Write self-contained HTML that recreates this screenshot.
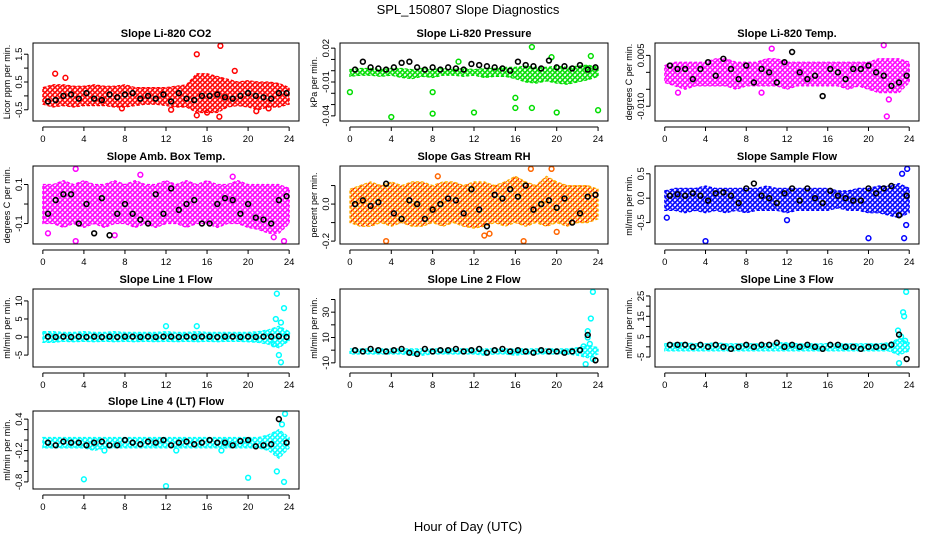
<!DOCTYPE html>
<html><head><meta charset="utf-8">
<style>
body{margin:0;background:#fff;}
svg{display:block;font-family:"Liberation Sans",sans-serif;}
</style></head>
<body>
<svg id="chart" width="936" height="540" viewBox="0 0 936 540">
<text x="468" y="14" text-anchor="middle" font-size="13">SPL_150807  Slope Diagnostics</text>
<text x="468" y="531" text-anchor="middle" font-size="13">Hour of Day (UTC)</text>
</svg>
<script>
const hours = [0,1,2,3,4,5,6,7,8,9,10,11,12,13,14,15,16,17,18,19,20,21,22,23,24];
const xTicks = [0,4,8,12,16,20,24];

const p1Lo = [-0.3,-0.4,-0.35,-0.4,-0.35,-0.35,-0.35,-0.4,-0.4,-0.35,-0.3,-0.3,-0.35,-0.4,-0.4,-0.6,-0.6,-0.6,-0.4,-0.35,-0.4,-0.5,-0.4,-0.4,-0.3];
const p1Hi = [0.3,0.4,0.4,0.35,0.35,0.4,0.35,0.35,0.4,0.3,0.3,0.3,0.3,0.35,0.4,0.8,0.8,0.7,0.6,0.5,0.55,0.5,0.5,0.45,0.3];
const p1Out = [[1.2,0.8],[2.2,0.65],[15,1.5],[17.3,1.8],[15,-0.7],[17.2,-0.75],[12.5,-0.5],[7.7,-0.45],[20.8,-0.55],[18.7,0.9],[16,-0.6],[22,-0.45]];
const p1Black = [-0.2,-0.15,0,0.05,-0.1,0.1,-0.1,-0.15,0.05,-0.05,0.05,0.1,-0.1,0,-0.1,0.05,-0.2,0.1,-0.1,-0.15,0,0,0.05,-0.05,-0.1,0,0.1,0,-0.05,-0.1,0.1,0.1];

const p2Lo = [-0.005,-0.004,-0.004,-0.005,-0.004,-0.006,-0.007,-0.005,-0.006,-0.004,-0.004,-0.005,-0.004,-0.006,-0.005,-0.005,-0.007,-0.01,-0.011,-0.009,-0.011,-0.012,-0.01,-0.008,-0.005];
const p2Hi = [0.001,0.002,0.002,0.001,0.002,0.002,0.001,0.002,0.001,0.002,0.001,0.002,0.001,0.002,0.002,0.003,0.003,0.004,0.003,0.003,0.004,0.003,0.004,0.005,0.003];
const p2Out = [[4,-0.041],[8,-0.038],[12,-0.037],[16,-0.033],[17.6,-0.033],[20,-0.037],[24,-0.035],[0,-0.019],[8,-0.019],[16,-0.024],[17.6,0.021],[23.3,0.013],[10.5,0.008],[19.5,0.012]];
const p2Black = [0.001,0.008,0.003,0.002,0.001,0.003,0.007,0.008,0.003,0.001,0.003,0.001,0.003,0.002,0.001,0.006,0.005,0.004,0.003,0.002,0.0,0.008,0.005,0.004,0.002,0.009,0.003,0.004,0.002,0.005,0.001,0.003];

const p3Lo = [-0.003,-0.004,-0.005,-0.004,-0.004,-0.004,-0.004,-0.005,-0.004,-0.004,-0.004,-0.004,-0.005,-0.004,-0.004,-0.004,-0.004,-0.004,-0.005,-0.004,-0.005,-0.006,-0.006,-0.006,-0.003];
const p3Hi = [0.002,0.003,0.003,0.003,0.003,0.004,0.004,0.003,0.003,0.003,0.004,0.004,0.003,0.003,0.003,0.003,0.003,0.003,0.003,0.003,0.003,0.004,0.004,0.004,0.003];
const p3Out = [[10.5,0.007],[21.5,0.008],[21.8,-0.013],[1.3,-0.006],[22,-0.008],[9.5,-0.006]];
const p3Black = [0.002,0.001,0.001,-0.002,0.001,0.003,-0.001,0.004,0.001,-0.002,0.002,-0.003,0.001,0.0,-0.003,0.003,0.006,0.0,-0.002,-0.001,-0.007,0.001,0.0,-0.002,0.001,0.001,0.002,0.0,-0.001,-0.004,-0.003,-0.001];

const p4Lo = [-0.1,-0.1,-0.12,-0.1,-0.12,-0.1,-0.12,-0.1,-0.1,-0.12,-0.1,-0.12,-0.1,-0.1,-0.12,-0.1,-0.1,-0.12,-0.1,-0.1,-0.12,-0.13,-0.15,-0.15,-0.1];
const p4Hi = [0.1,0.1,0.12,0.1,0.12,0.1,0.1,0.12,0.1,0.12,0.1,0.1,0.12,0.1,0.12,0.1,0.12,0.1,0.1,0.12,0.1,0.1,0.1,0.1,0.08];
const p4Out = [[3.2,0.18],[3.2,-0.19],[23.5,-0.19],[0.5,-0.15],[9.5,0.15],[18.5,0.14],[22.5,-0.17],[7,-0.16]];
const p4Black = [-0.05,0.02,0.05,0.05,-0.1,0.0,-0.15,0.03,-0.16,-0.05,0.0,-0.05,-0.08,-0.1,0.05,-0.05,0.08,-0.03,0.0,0.02,-0.1,-0.1,0.0,0.03,0.02,-0.05,0.0,-0.07,-0.08,-0.1,0.02,0.04];

const p5Lo = [-0.1,-0.12,-0.12,-0.1,-0.12,-0.1,-0.12,-0.12,-0.1,-0.12,-0.1,-0.12,-0.13,-0.12,-0.1,-0.12,-0.1,-0.12,-0.1,-0.12,-0.1,-0.12,-0.1,-0.1,-0.08];
const p5Hi = [0.08,0.1,0.12,0.1,0.12,0.1,0.12,0.12,0.1,0.12,0.12,0.1,0.12,0.12,0.1,0.12,0.15,0.12,0.1,0.15,0.12,0.1,0.1,0.1,0.08];
const p5Out = [[3.5,-0.2],[16.8,-0.2],[17.5,0.19],[13,-0.17],[19.5,0.19],[13.5,-0.16],[8.5,0.15],[20,-0.15]];
const p5Black = [0.0,0.02,-0.01,0.01,0.11,-0.05,-0.08,0.02,0.0,-0.08,-0.03,0.0,0.03,0.02,-0.05,0.08,-0.03,-0.12,0.05,0.03,0.08,0.04,0.1,-0.03,0.0,0.02,-0.02,0.03,-0.1,-0.05,0.04,0.05];

const p6Lo = [-0.25,-0.25,-0.3,-0.25,-0.3,-0.25,-0.3,-0.25,-0.3,-0.25,-0.25,-0.25,-0.3,-0.25,-0.25,-0.25,-0.25,-0.2,-0.25,-0.25,-0.3,-0.3,-0.35,-0.4,-0.3];
const p6Hi = [0.15,0.2,0.2,0.2,0.25,0.2,0.2,0.2,0.2,0.2,0.25,0.2,0.2,0.2,0.2,0.2,0.2,0.15,0.15,0.2,0.2,0.25,0.25,0.3,0.2];
const p6Out = [[4,-0.88],[20,-0.82],[23.5,-0.82],[0.2,-0.4],[23.3,0.5],[23.8,0.6],[12,-0.45],[23.7,-0.55]];
const p6Black = [0.05,0.08,0.05,0.1,0.05,-0.05,0.1,0.12,0.05,-0.1,0.2,0.3,0.05,0.0,-0.1,0.1,0.2,-0.05,0.2,0.0,-0.1,0.15,0.05,0.0,-0.05,-0.05,0.2,0.1,0.2,0.25,-0.35,0.05];

const p7Lo = [-1.5,-1.5,-1.2,-1.3,-1.2,-1.3,-1.2,-1.3,-1.2,-1.3,-1.2,-1.3,-1.2,-1.3,-1.2,-1.3,-1.2,-1.3,-1.2,-1.2,-1.3,-1.5,-2,-3,-1];
const p7Hi = [1.5,1.5,1.3,1.3,1.5,1.3,1.3,1.5,1.3,1.3,1.3,1.3,1.5,1.3,1.3,1.5,1.3,1.3,1.3,1.3,1.3,1.5,2,3,1.5];
const p7Out = [[22.8,12],[23.5,8],[23,-5],[23.2,-7],[22.5,-2],[22.7,5],[12,3],[15,3],[23.2,4],[23.8,1]];
const p7Black = [0.1,0.0,0.1,0.0,0.1,0.0,0.1,0.0,0.1,0.0,0.1,0.1,0.0,0.1,0.0,0.1,0.1,0.0,0.1,0.0,0.1,0.1,0.0,0.1,0.1,0.0,0.1,0.0,0.1,0.1,0.2,0.0];

const p8Lo = [-3,-3,-3,-3,-3,-3,-4,-4,-3,-3,-3,-3,-3,-4,-3,-3,-4,-3,-3,-3,-3,-3,-4,-6,-3];
const p8Hi = [1,1,1,1,1,1,1,1,1,1,1,1,1,1,1,1,1,1,1,1,1,1,2,4,2];
const p8Out = [[23.5,46],[23.3,25],[23,15],[23,10],[22.8,-11],[23.5,-7],[23.2,5],[22.6,3]];
const p8Black = [0,-1,1,0,-1,0,1,-2,-3,1,-1,0,0,1,-1,0,1,-2,0,1,-1,0,-1,-2,0,-1,-1,-2,-1,0,12,-8];

const p9Lo = [-2,-2,-2,-2,-2,-2,-2,-2,-2,-2,-2,-2,-2,-2,-2,-2,-2,-2,-2,-2,-2,-2,-2,-4,-2];
const p9Hi = [1.5,2,2,1.5,1.5,2,1.5,1.5,1.5,1.5,1.5,2,2,1.5,1.5,1.5,1.5,1.5,1.5,1.5,1.5,1.5,2,4,2];
const p9Out = [[23.7,27],[23.4,17],[23.5,15],[22.9,8],[23,-8],[23.2,5],[23.6,3]];
const p9Black = [1,1,1,0,1,0,1,0,-1,0,1,0,1,1,2,0,1,0,1,0,-1,1,1,0,0,-1,0,0,0,1,6,-6];

const p10Lo = [-0.15,-0.15,-0.15,-0.15,-0.15,-0.2,-0.15,-0.15,-0.15,-0.15,-0.15,-0.15,-0.15,-0.15,-0.15,-0.15,-0.15,-0.15,-0.15,-0.15,-0.15,-0.15,-0.2,-0.35,-0.15];
const p10Hi = [0.05,0.05,0.05,0.05,0.05,0.05,0.05,0.05,0.05,0.05,0.05,0.05,0.05,0.05,0.05,0.05,0.05,0.05,0.05,0.05,0.05,0.05,0.1,0.2,0.05];
const p10Out = [[4,-0.75],[12,-0.88],[20,-0.72],[23.5,-0.8],[22.8,-0.6],[23.6,0.5],[23.3,0.3],[6,-0.2],[13,-0.2],[17.4,-0.2]];
const p10Black = [-0.05,-0.1,-0.03,-0.05,-0.05,-0.1,-0.05,-0.03,-0.1,-0.1,0.0,-0.05,-0.08,-0.03,-0.05,0.0,-0.1,-0.05,-0.03,-0.08,-0.05,0.0,-0.05,-0.05,-0.1,-0.02,0.0,-0.12,-0.1,-0.08,0.4,-0.05];

const panels = [
 {name:'slope-li820-co2',title:'Slope Li-820 CO2',ylab:'Licor ppm per min.',col:0,row:0,ymin:-0.8,ymax:1.8,ticks:[-0.5,0,0.5,1,1.5],labels:[-0.5,0.5,1.5],fmt:v=>v.toFixed(1),color:'#ff0000',lo:p1Lo,hi:p1Hi,out:p1Out,black:p1Black},
 {name:'slope-li820-pressure',title:'Slope Li-820 Pressure',ylab:'kPa per min.',col:1,row:0,ymin:-0.042,ymax:0.022,ticks:[-0.04,-0.03,-0.02,-0.01,0,0.01,0.02],labels:[-0.04,-0.01,0.02],fmt:v=>v.toFixed(2),color:'#00dd00',lo:p2Lo,hi:p2Hi,out:p2Out,black:p2Black},
 {name:'slope-li820-temp',title:'Slope Li-820 Temp.',ylab:'degrees C per min.',col:2,row:0,ymin:-0.0135,ymax:0.0078,ticks:[-0.01,-0.005,0,0.005],labels:[-0.01,0.005],fmt:v=>v.toFixed(3),color:'#ff00ff',lo:p3Lo,hi:p3Hi,out:p3Out,black:p3Black},
 {name:'slope-amb-box-temp',title:'Slope Amb. Box Temp.',ylab:'degrees C per min.',col:0,row:1,ymin:-0.19,ymax:0.18,ticks:[-0.1,0,0.1],labels:[-0.1,0.1],fmt:v=>v.toFixed(1),color:'#ff00ff',lo:p4Lo,hi:p4Hi,out:p4Out,black:p4Black},
 {name:'slope-gas-stream-rh',title:'Slope Gas Stream RH',ylab:'percent per min.',col:1,row:1,ymin:-0.2,ymax:0.19,ticks:[-0.2,-0.1,0,0.1],labels:[-0.2,0],fmt:v=>v.toFixed(1),color:'#ffaa00',lo:p5Lo,hi:p5Hi,out:p5Out,black:p5Black},
 {name:'slope-sample-flow',title:'Slope Sample Flow',ylab:'ml/min per min.',col:2,row:1,ymin:-0.88,ymax:0.6,ticks:[-0.5,0,0.5],labels:[-0.5,0,0.5],fmt:v=>v.toFixed(1),color:'#0000ff',lo:p6Lo,hi:p6Hi,out:p6Out,black:p6Black},
 {name:'slope-line1-flow',title:'Slope Line 1 Flow',ylab:'ml/min per min.',col:0,row:2,ymin:-7.5,ymax:12.5,ticks:[-5,0,5,10],labels:[-5,0,5,10],fmt:v=>String(v),color:'#00ffff',lo:p7Lo,hi:p7Hi,out:p7Out,black:p7Black},
 {name:'slope-line2-flow',title:'Slope Line 2 Flow',ylab:'ml/min per min.',col:1,row:2,ymin:-11,ymax:46,ticks:[-10,0,10,20,30,40],labels:[-10,10,30],fmt:v=>String(v),color:'#00ffff',lo:p8Lo,hi:p8Hi,out:p8Out,black:p8Black},
 {name:'slope-line3-flow',title:'Slope Line 3 Flow',ylab:'ml/min per min.',col:2,row:2,ymin:-8.5,ymax:27,ticks:[-5,0,5,10,15,20,25],labels:[-5,5,15,25],fmt:v=>String(v),color:'#00ffff',lo:p9Lo,hi:p9Hi,out:p9Out,black:p9Black},
 {name:'slope-line4-lt-flow',title:'Slope Line 4 (LT) Flow',ylab:'ml/min per min.',col:0,row:3,ymin:-0.88,ymax:0.5,ticks:[-0.8,-0.6,-0.4,-0.2,0,0.2,0.4],labels:[-0.8,-0.2,0.4],fmt:v=>v.toFixed(1),color:'#00ffff',lo:p10Lo,hi:p10Hi,out:p10Out,black:p10Black}
];

const NS='http://www.w3.org/2000/svg';
const svg=document.getElementById('chart');
const colL=[33,340,655], colW=[266,268,264];
const rowT=[43,166,289,411], rowH=78;
function mk(tag,attrs,parent){const e=document.createElementNS(NS,tag);for(const k in attrs)e.setAttribute(k,attrs[k]);(parent||svg).appendChild(e);return e;}
const defs=mk('defs',{});

panels.forEach((p,i)=>{
  const L=colL[p.col], W=colW[p.col], T=rowT[p.row], H=rowH;
  const xr=[-0.96,24.96];
  const pad=(p.ymax-p.ymin)*0.04;
  const yr=[p.ymin-pad,p.ymax+pad];
  const sx=v=>L+(v-xr[0])/(xr[1]-xr[0])*W;
  const sy=v=>T+H-(v-yr[0])/(yr[1]-yr[0])*H;
  const g=mk('g',{});
  
  
  const pat=mk('pattern',{id:'pat'+i,width:5,height:5,patternUnits:'userSpaceOnUse'},defs);
  mk('rect',{width:5,height:5,fill:'#ffffff'},pat);
  mk('circle',{cx:2.5,cy:2.5,r:1.8,fill:'none',stroke:p.color,'stroke-width':1.4},pat);
  mk('circle',{cx:0,cy:0,r:1.8,fill:'none',stroke:i===4?'#ff2200':p.color,'stroke-width':1.2},pat);
  mk('circle',{cx:5,cy:5,r:1.8,fill:'none',stroke:i===4?'#ff2200':p.color,'stroke-width':1.2},pat);
  const t=mk('text',{x:L+W/2,y:T-6,'text-anchor':'middle','font-size':11,'font-weight':'bold'},g);
  t.textContent=p.title;
  
  
  let pts=hours.map((h,k)=>sx(h)+','+sy(p.hi[k]));
  pts=pts.concat(hours.slice().reverse().map((h,k)=>sx(h)+','+sy(p.lo[hours.length-1-k])));
  const band=mk('polygon',{points:pts.join(' '),fill:'url(#pat'+i+')',stroke:p.color,'stroke-width':1.2,'stroke-dasharray':'3 2'},g);
  
  
  p.out.forEach(o=>{
    const c=mk('circle',{cx:sx(o[0]),cy:sy(o[1]),r:2.4,fill:'none',stroke:i===4?'#ff6600':p.color,'stroke-width':1.5},g);
    
    
  });
  p.black.forEach((v,k)=>{
    const c=mk('circle',{cx:sx(0.5+0.75*k),cy:sy(v),r:2.4,fill:'none',stroke:'#000','stroke-width':1.6},g);
    
    
  });
  const box=mk('rect',{x:L,y:T,width:W,height:H,fill:'none',stroke:'#000','stroke-width':1},g);
  
  
  mk('line',{x1:sx(0),x2:sx(24),y1:T+H+6,y2:T+H+6,stroke:'#000'},g);
  xTicks.forEach(v=>{
    mk('line',{x1:sx(v),x2:sx(v),y1:T+H+6,y2:T+H+10,stroke:'#000'},g);
    const tl=mk('text',{x:sx(v),y:T+H+21,'text-anchor':'middle','font-size':9.5},g);
    tl.textContent=v;
    
    
  });
  mk('line',{x1:L-5,x2:L-5,y1:sy(p.ticks[0]),y2:sy(p.ticks[p.ticks.length-1]),stroke:'#000'},g);
  p.ticks.forEach(v=>{
    mk('line',{x1:L-5,x2:L-9,y1:sy(v),y2:sy(v),stroke:'#000'},g);
  });
  p.labels.forEach(v=>{
    const yl=mk('text',{x:L-11,y:sy(v),'text-anchor':'middle','font-size':9.5,transform:'rotate(-90 '+(L-11)+' '+sy(v)+')'},g);
    yl.textContent=p.fmt(v);
    
    
  });
  const ya=mk('text',{x:L-23,y:T+H/2,'text-anchor':'middle','font-size':9,transform:'rotate(-90 '+(L-23)+' '+(T+H/2)+')'},g);
  ya.textContent=p.ylab;
  
  
});
</script>
</body></html>
